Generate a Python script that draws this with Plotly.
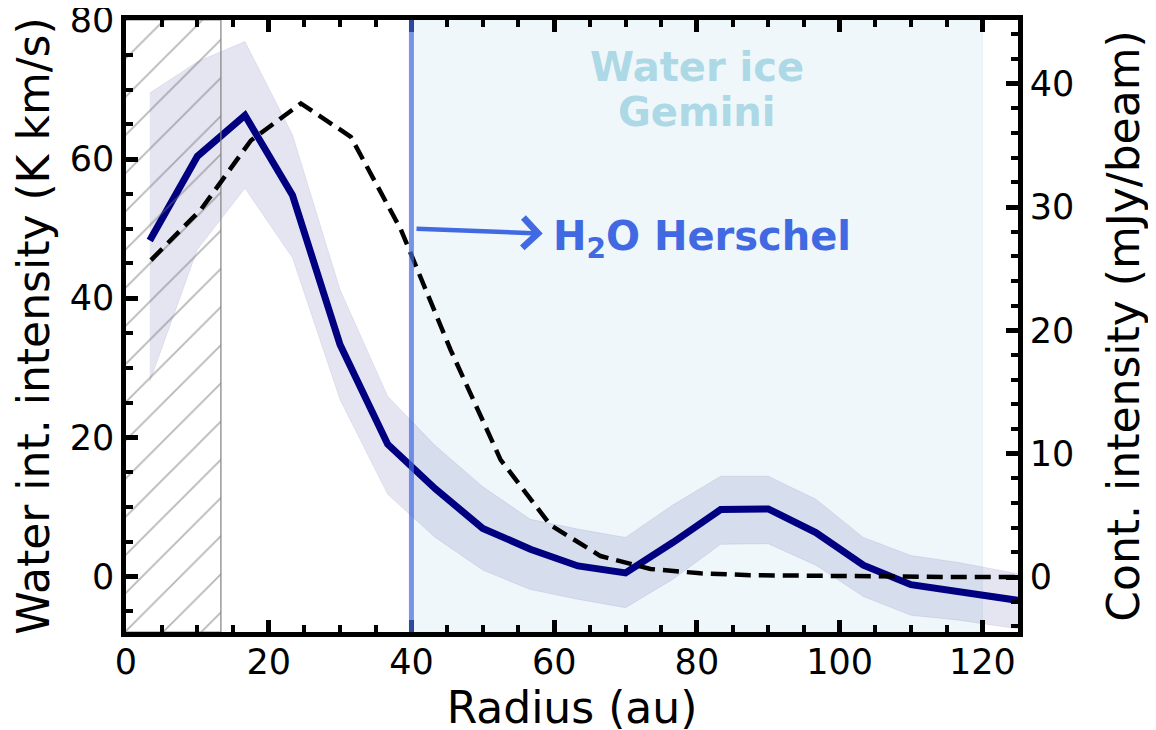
import plotly.graph_objects as go

# Water line intensity profile (left axis, K km/s)
radius_water = [3.33, 10.0, 16.67, 23.33, 30.0, 36.67, 43.33, 50.0, 56.67, 63.33, 70.0,
                76.67, 83.33, 90.0, 96.67, 103.33, 110.0, 116.67, 123.33, 130.0]
water_int = [48.3, 60.4, 66.3, 54.8, 33.3, 19.0, 12.6, 6.9, 3.9, 1.5, 0.5,
             4.9, 9.6, 9.7, 6.3, 1.6, -1.2, -2.2, -3.2, -4.2]
water_upper = [69.5, 74.0, 76.9, 63.5, 41.2, 25.9, 18.8, 12.9, 8.2, 6.8, 5.6,
               10.3, 14.4, 14.4, 11.1, 5.6, 3.0, 2.0, 0.7, -0.6]
water_lower = [28.0, 47.0, 55.8, 45.8, 25.4, 11.8, 5.6, 0.9, -1.9, -3.3, -4.5,
               -0.4, 4.6, 4.7, 1.6, -2.9, -5.6, -6.3, -7.3, -8.3]

# Continuum intensity profile (right axis, mJy/beam)
radius_cont = [3.5, 10.5, 17.5, 24.5, 31.5, 38.5, 45.5, 52.5, 59.5, 66.5, 73.5,
               80.5, 87.5, 94.5, 101.5, 108.5, 115.5, 122.5, 129.5]
cont_int = [25.7, 29.8, 35.4, 38.4, 35.7, 28.2, 18.4, 9.5, 4.2, 1.7, 0.65,
            0.3, 0.15, 0.1, 0.05, 0.0, 0.0, 0.0, 0.0]

# Regions / markers
inner_hatch = [0.0, 13.3]
ice_region = [40.0, 120.0]
herschel_r = 40.0

x_ticks = [0, 20, 40, 60, 80, 100, 120]
y_ticks = [0, 20, 40, 60, 80]
y2_ticks = [0, 10, 20, 30, 40]

FONT = "DejaVu Sans"

fig = go.Figure()

# uncertainty band
fig.add_trace(go.Scatter(
    x=radius_water + radius_water[::-1],
    y=water_upper + water_lower[::-1],
    fill="toself", fillcolor="rgba(0,0,128,0.1)",
    line=dict(color="rgba(0,0,128,0.08)", width=1),
    mode="lines", hoverinfo="skip", showlegend=False))

# water line
fig.add_trace(go.Scatter(
    x=radius_water, y=water_int, mode="lines",
    line=dict(color="navy", width=7), showlegend=False))

# hatched inner region
fig.add_trace(go.Scatter(
    x=[inner_hatch[0] - 1, inner_hatch[1], inner_hatch[1], inner_hatch[0] - 1, inner_hatch[0] - 1],
    y=[-8, -8, 80, 80, -8],
    fill="toself", fillcolor="rgba(0,0,0,0)",
    fillpattern=dict(shape="/", fgcolor="#6e6e6e", bgcolor="rgba(0,0,0,0)",
                     size=27, solidity=0.065),
    line=dict(color="#808080", width=1.2),
    mode="lines", hoverinfo="skip", showlegend=False))

# continuum (right axis)
fig.add_trace(go.Scatter(
    x=radius_cont, y=cont_int, mode="lines", yaxis="y2",
    line=dict(color="black", width=4.5, dash="16px,8px"), showlegend=False))

# light blue ice region
fig.add_shape(type="rect", xref="x", yref="paper",
              x0=ice_region[0], x1=ice_region[1], y0=0, y1=1,
              fillcolor="rgba(173,216,230,0.2)",
              line=dict(color="rgba(173,216,230,0.25)", width=1), layer="below")

# Herschel vertical line
fig.add_shape(type="line", xref="x", yref="paper",
              x0=herschel_r, x1=herschel_r, y0=0, y1=1,
              line=dict(color="rgba(65,105,225,0.7)", width=5), layer="above")

# arrow
fig.add_annotation(x=58.4, y=49.3, ax=40.5, ay=50.0, xref="x", yref="y",
                   axref="x", ayref="y", text="", showarrow=True,
                   arrowhead=4, arrowsize=1.3, arrowwidth=4.5, arrowcolor="royalblue")
fig.add_annotation(x=59.6, y=48.5, xref="x", yref="y", xanchor="left", yanchor="middle",
                   text="<b>H<sub>2</sub>O Herschel</b>", showarrow=False,
                   font=dict(family=FONT, size=40, color="royalblue"))
fig.add_annotation(x=80, y=73.2, xref="x", yref="y", xanchor="center", yanchor="middle",
                   text="<b>Water ice</b>", showarrow=False,
                   font=dict(family=FONT, size=40, color="lightblue"))
fig.add_annotation(x=80, y=66.8, xref="x", yref="y", xanchor="center", yanchor="middle",
                   text="<b>Gemini</b>", showarrow=False,
                   font=dict(family=FONT, size=40, color="lightblue"))

axis_common = dict(showgrid=False, zeroline=False, showline=True, linecolor="black",
                   linewidth=4.5, ticks="inside", ticklen=12, tickwidth=4.5,
                   tickcolor="black", ticklabeloverflow="allow",
                   tickfont=dict(family=FONT, size=35, color="black"))

fig.update_layout(
    width=1156, height=730,
    margin=dict(l=118, r=146, t=12, b=106, autoexpand=False),
    plot_bgcolor="white", paper_bgcolor="white",
    font=dict(family=FONT, color="black"),
    xaxis=dict(range=[0, 125], tickvals=x_ticks, mirror="ticks", ticklabelstandoff=-5,
               minor=dict(dtick=5, tick0=0, ticks="inside", ticklen=7, tickwidth=4, tickcolor="black"),
               title=dict(text="Radius (au)", font=dict(family=FONT, size=44), standoff=7),
               **axis_common),
    yaxis=dict(range=[-8, 80], tickvals=y_ticks,
               minor=dict(dtick=5, tick0=0, ticks="inside", ticklen=7, tickwidth=4, tickcolor="black"),
               title=dict(text="Water int. intensity (K km/s)", font=dict(family=FONT, size=44), standoff=10),
               **axis_common),
    yaxis2=dict(range=[-4.46, 45.17], tickvals=y2_ticks, overlaying="y", side="right",
                minor=dict(dtick=2, tick0=0, ticks="inside", ticklen=7, tickwidth=4, tickcolor="black"),
                title=dict(text="Cont. intensity (mJy/beam)", font=dict(family=FONT, size=44), standoff=36),
                **axis_common),
)

fig.write_html("out.html")
